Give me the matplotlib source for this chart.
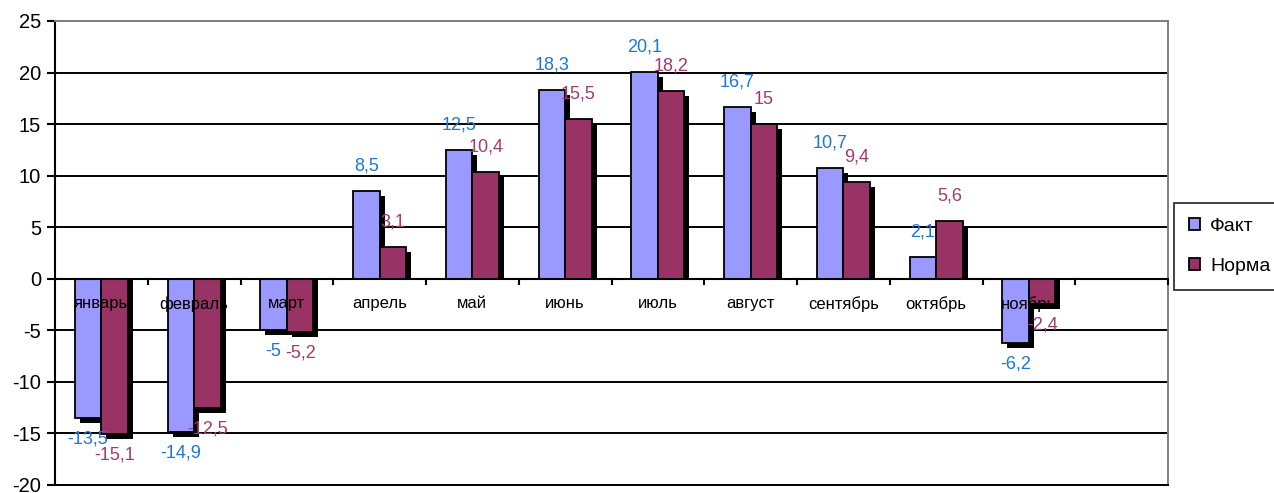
import matplotlib
matplotlib.use("Agg")
import matplotlib.pyplot as plt
from matplotlib.patches import Patch
import numpy as np

plt.rcParams['font.family'] = ['Liberation Sans', 'DejaVu Sans']

months = ["январь", "февраль", "март", "апрель", "май", "июнь",
          "июль", "август", "сентябрь", "октябрь", "ноябрь"]
n_slots = 12  # axis has one empty slot (декабрь)
fact = [-13.5, -14.9, -5, 8.5, 12.5, 18.3, 20.1, 16.7, 10.7, 2.1, -6.2]
norma = [-15.1, -12.5, -5.2, 3.1, 10.4, 15.5, 18.2, 15, 9.4, 5.6, -2.4]
series_names = ["Факт", "Норма"]
yticks = [-20, -15, -10, -5, 0, 5, 10, 15, 20, 25]

fill_colors = ["#9999FF", "#993366"]
label_colors = ["#1E78D2", "#A03C6E"]

fig = plt.figure(figsize=(12.74, 4.93), dpi=100)
ax = fig.add_axes([55/1274, 8/493, (1168-55)/1274, (485-21)/493])
ax.set_xlim(-0.5, n_slots - 0.5)
ax.set_ylim(-20, 25)

# gridlines
for yv in yticks:
    ax.axhline(yv, color="black", lw=1.4, zorder=0)

w = 0.287
dx = 5 / 92.8
dy = 5 * 45 / 464
x = np.arange(len(months))
for si, vals in enumerate([fact, norma]):
    off = (-0.5 + si) * w
    xs = x + off
    for xi, v in zip(xs, vals):
        # shadow
        ax.bar(xi + dx, v - dy, width=w, bottom=0, color="black", zorder=2, lw=0)
    ax.bar(xs, vals, width=w, color=fill_colors[si], edgecolor="black", lw=1.3, zorder=3)
    for xi, v in zip(xs, vals):
        txt = ("%g" % v).replace(".", ",")
        offy = 25 if v >= 0 else -21
        ax.annotate(txt, (xi, v), xytext=(0, offy), textcoords="offset pixels",
                    ha="center", va="center", fontsize=13, color=label_colors[si], zorder=6)

for xi, m in zip(x, months):
    ax.annotate(m, (xi, 0), xytext=(0, -25), textcoords="offset pixels",
                ha="center", va="center", fontsize=12, color="black", zorder=7)

# zero axis with ticks at category boundaries
ax.axhline(0, color="black", lw=1.5, zorder=4)
for b in np.arange(1, n_slots + 1) - 0.5:
    ax.plot([b, b], [0, -0.55], color="black", lw=1.5, zorder=4, clip_on=False)

ax.set_xticks([])
ax.set_yticks(yticks)
ax.set_yticklabels([str(t) for t in yticks], fontsize=14.5)
ax.tick_params(axis="y", length=6, width=1.5, pad=4)
ax.spines["left"].set_color("black")
ax.spines["left"].set_linewidth(1.5)
ax.spines["bottom"].set_color("black")
ax.spines["bottom"].set_linewidth(1.4)
ax.spines["top"].set_color("#808080")
ax.spines["top"].set_linewidth(1.4)
ax.spines["right"].set_color("#808080")
ax.spines["right"].set_linewidth(1.4)

handles = [Patch(facecolor=fill_colors[i], edgecolor="black", lw=1.3, label=series_names[i])
           for i in range(2)]
leg = fig.legend(handles=handles, loc="upper left",
                 bbox_to_anchor=(1174/1274, 1 - 203/493), fontsize=14,
                 frameon=True, fancybox=False, handlelength=0.6, handleheight=0.6,
                 handletextpad=0.5, labelspacing=1.2, borderpad=0.75, borderaxespad=0)
leg.get_frame().set_edgecolor("black")
leg.get_frame().set_linewidth(1.3)

fig.savefig("out.png", dpi=100)
